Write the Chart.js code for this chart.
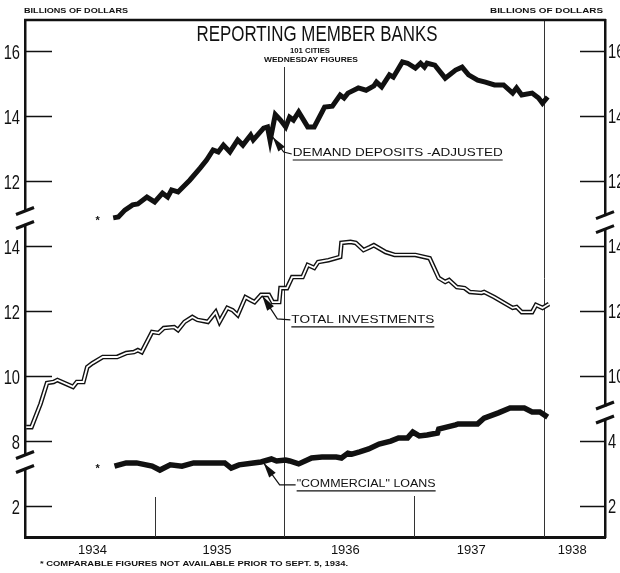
<!DOCTYPE html>
<html>
<head>
<meta charset="utf-8">
<script src="https://cdn.jsdelivr.net/npm/chart.js@4.4.0/dist/chart.umd.min.js"></script>
<style>
    html, body { margin: 0; padding: 0; background: #fff; }
    canvas { display: block; }
</style>
</head>
<body>
<canvas id="grafico" width="620" height="573"></canvas>
<script>
// ==== Dados (bilhões de dólares, figuras de quarta-feira) ====
const depositYears = [1934.68, 1934.72, 1934.77, 1934.83, 1934.87, 1934.94, 1935.00, 1935.06, 1935.10, 1935.13,
    1935.18, 1935.27, 1935.35, 1935.40, 1935.45, 1935.49, 1935.53, 1935.58, 1935.64, 1935.68,
    1935.74, 1935.76, 1935.84, 1935.87, 1935.89, 1935.93, 1935.97, 1936.01, 1936.04, 1936.07,
    1936.11, 1936.18, 1936.23, 1936.31, 1936.37, 1936.43, 1936.46, 1936.49, 1936.57, 1936.63,
    1936.69, 1936.71, 1936.75, 1936.81, 1936.84, 1936.91, 1936.95, 1937.01, 1937.05, 1937.08,
    1937.10, 1937.16, 1937.24, 1937.32, 1937.37, 1937.42, 1937.49, 1937.55, 1937.62, 1937.69,
    1937.76, 1937.79, 1937.83, 1937.91, 1937.96, 1937.99, 1938.03];
const depositValues = [10.87, 10.90, 11.11, 11.27, 11.30, 11.51, 11.36, 11.63, 11.51, 11.73,
    11.67, 12.03, 12.40, 12.65, 12.96, 12.90, 13.11, 12.90, 13.27, 13.11,
    13.42, 13.27, 13.63, 13.67, 13.25, 14.05, 13.88, 13.67, 13.97, 13.88,
    14.13, 13.67, 13.67, 14.28, 14.31, 14.65, 14.56, 14.71, 14.87, 14.80,
    14.93, 15.05, 14.90, 15.27, 15.20, 15.67, 15.63, 15.48, 15.63, 15.51,
    15.63, 15.57, 15.17, 15.42, 15.51, 15.27, 15.11, 15.05, 14.96, 14.96,
    14.71, 14.87, 14.65, 14.71, 14.56, 14.40, 14.59];

const investYears = [1934.01, 1934.05, 1934.12, 1934.17, 1934.22, 1934.25, 1934.37, 1934.40, 1934.45, 1934.48,
    1934.52, 1934.60, 1934.71, 1934.78, 1934.84, 1934.87, 1934.90, 1934.98, 1935.03, 1935.07,
    1935.15, 1935.18, 1935.23, 1935.29, 1935.33, 1935.41, 1935.47, 1935.50, 1935.56, 1935.60,
    1935.64, 1935.70, 1935.74, 1935.77, 1935.82, 1935.88, 1935.91, 1935.96, 1935.97, 1936.02,
    1936.06, 1936.14, 1936.18, 1936.23, 1936.26, 1936.34, 1936.43, 1936.44, 1936.51, 1936.55,
    1936.61, 1936.66, 1936.69, 1936.78, 1936.85, 1937.01, 1937.12, 1937.19, 1937.24, 1937.27,
    1937.33, 1937.39, 1937.43, 1937.52, 1937.54, 1937.62, 1937.76, 1937.79, 1937.83, 1937.91,
    1937.94, 1937.99, 1938.04];
const investValues = [8.43, 8.43, 9.15, 9.79, 9.82, 9.88, 9.67, 9.82, 9.82, 10.28,
    10.40, 10.59, 10.59, 10.71, 10.74, 10.80, 10.74, 11.36, 11.33, 11.48,
    11.51, 11.42, 11.67, 11.82, 11.73, 11.67, 11.97, 11.67, 12.10, 12.03,
    11.88, 12.43, 12.34, 12.28, 12.50, 12.50, 12.28, 12.28, 12.71, 12.71,
    13.05, 13.05, 13.42, 13.33, 13.51, 13.57, 13.67, 14.10, 14.13, 14.10,
    13.88, 13.97, 14.03, 13.82, 13.73, 13.73, 13.63, 13.02, 12.90, 12.96,
    12.74, 12.71, 12.59, 12.56, 12.59, 12.43, 12.10, 12.13, 11.97, 11.97,
    12.19, 12.10, 12.22];

const loanYears = [1934.69, 1934.78, 1934.86, 1934.98, 1935.04, 1935.12, 1935.21, 1935.30, 1935.54, 1935.59,
    1935.65, 1935.76, 1935.82, 1935.90, 1935.94, 1936.01, 1936.04, 1936.11, 1936.21, 1936.29,
    1936.40, 1936.44, 1936.49, 1936.52, 1936.58, 1936.65, 1936.73, 1936.82, 1936.88, 1936.95,
    1936.99, 1937.04, 1937.10, 1937.18, 1937.19, 1937.25, 1937.32, 1937.34, 1937.42, 1937.49,
    1937.54, 1937.65, 1937.74, 1937.85, 1937.91, 1937.97, 1938.03];
const loanValues = [3.23, 3.33, 3.33, 3.23, 3.11, 3.27, 3.23, 3.33, 3.33, 3.17,
    3.27, 3.33, 3.36, 3.45, 3.39, 3.42, 3.39, 3.30, 3.48, 3.51,
    3.51, 3.48, 3.63, 3.60, 3.67, 3.76, 3.91, 4.00, 4.10, 4.10,
    4.28, 4.16, 4.19, 4.25, 4.37, 4.43, 4.50, 4.53, 4.53, 4.53,
    4.71, 4.87, 5.02, 5.02, 4.90, 4.90, 4.74];

const yearLabels = ['1934', '1935', '1936', '1937', '1938'];
const tickSpots = [2, 4, 6, 8, 10, 12, 14, 16];
const leftTickLabels = ['2', '8', '10', '12', '14', '12', '14', '16'];
const rightTickLabels = ['2', '4', '10', '12', '14', '12', '14', '16'];

// a faixa do meio (investimentos) é desenhada 4 bilhões abaixo
const investShift = 4;
const firstWeek = 1934.56; // asterisco: sem dados antes de 5 set 1934

function toPoints(years, values, shift) {
    return years.map((yr, i) => ({ x: yr, y: values[i] - shift }));
}

const sans = '"Liberation Sans", "DejaVu Sans", sans-serif';

function fitText(ctx, text, x, y, width, font, align) {
    ctx.save();
    ctx.font = font;
    ctx.fillStyle = '#111';
    ctx.textBaseline = 'middle';
    ctx.textAlign = 'left';
    const w = ctx.measureText(text).width;
    const left = align === 'center' ? x - width / 2 : x;
    ctx.translate(left, y);
    ctx.scale(width / w, 1);
    ctx.fillText(text, 0, 0);
    ctx.restore();
}

// texto estreito: fonte normal comprimida na horizontal
function narrowText(ctx, text, x, y, font, sx, align) {
    ctx.save();
    ctx.font = font;
    ctx.fillStyle = '#111';
    ctx.textBaseline = 'middle';
    ctx.textAlign = align;
    ctx.translate(x, y);
    ctx.scale(sx, 1);
    ctx.fillText(text, 0, 0);
    ctx.restore();
}

function drawBreak(ctx, x, y) {
    ctx.save();
    ctx.fillStyle = '#fff';
    ctx.fillRect(x - 4, y - 6, 8, 12);
    ctx.strokeStyle = '#111';
    ctx.lineWidth = 3.2;
    for (const dy of [-7, 7]) {
        ctx.beginPath();
        ctx.moveTo(x - 9, y + dy + 3.5);
        ctx.lineTo(x + 9, y + dy - 3.5);
        ctx.stroke();
    }
    ctx.restore();
}

function drawArrow(ctx, tx, ty, elbow, end) {
    const ex = tx + elbow[0], ey = ty + elbow[1];
    const ang = Math.atan2(ey - ty, ex - tx);
    const len = 15, half = 4;
    ctx.save();
    ctx.fillStyle = '#111';
    ctx.strokeStyle = '#111';
    ctx.beginPath();
    ctx.moveTo(tx, ty);
    ctx.lineTo(tx + len * Math.cos(ang) - half * Math.sin(ang), ty + len * Math.sin(ang) + half * Math.cos(ang));
    ctx.lineTo(tx + len * Math.cos(ang) + half * Math.sin(ang), ty + len * Math.sin(ang) - half * Math.cos(ang));
    ctx.closePath();
    ctx.fill();
    ctx.lineWidth = 1.2;
    ctx.beginPath();
    ctx.moveTo(tx, ty);
    ctx.lineTo(ex, ey);
    ctx.lineTo(tx + end[0], ty + end[1]);
    ctx.stroke();
    ctx.restore();
}

// rótulos com seta: ponta em coordenadas do gráfico, resto em deslocamento de pixels
const notes = [
    { text: 'DEMAND DEPOSITS -ADJUSTED', at: [1935.91, 13.36], elbow: [11, 15], end: [19, 17], label: [20, 16], width: 210 },
    { text: 'TOTAL INVESTMENTS', at: [1935.83, 8.47], elbow: [15, 23], end: [28, 24], label: [29, 24], width: 143 },
    { text: '"COMMERCIAL" LOANS', at: [1935.84, 3.33], elbow: [16, 22], end: [32, 22], label: [33, 21], width: 139 }
];

const decor = {
    id: 'decor',
    beforeDatasetsDraw(chart) {
        const { ctx, chartArea: a, scales: { x } } = chart;
        ctx.save();
        ctx.strokeStyle = '#333';
        ctx.lineWidth = 1;
        const lines = [[1935, a.bottom - 40], [1936, 67], [1937, a.bottom - 41], [1938, a.top]];
        lines.forEach(([yr, top]) => {
            const px = Math.round(x.getPixelForValue(yr)) + 0.5;
            ctx.beginPath();
            ctx.moveTo(px, top);
            ctx.lineTo(px, a.bottom);
            ctx.stroke();
        });
        ctx.restore();
    },
    afterDraw(chart) {
        const { ctx, chartArea: a, scales: { x, y, y2 } } = chart;
        ctx.save();
        // moldura superior
        ctx.strokeStyle = '#111';
        ctx.lineWidth = 2.5;
        ctx.beginPath();
        ctx.moveTo(a.left - 1, a.top);
        ctx.lineTo(a.right + 1, a.top);
        ctx.stroke();

        // marcas internas dos eixos
        ctx.lineWidth = 1.3;
        tickSpots.forEach(v => {
            const py = Math.round(y.getPixelForValue(v)) + 0.5;
            ctx.beginPath();
            ctx.moveTo(a.left, py);
            ctx.lineTo(a.left + 27, py);
            ctx.moveTo(a.right - 25, py);
            ctx.lineTo(a.right, py);
            ctx.stroke();
        });
        ctx.restore();

        // rótulos dos eixos verticais (letra estreita)
        y.ticks.forEach((t, i) => {
            narrowText(ctx, leftTickLabels[i], a.left - 5, y.getPixelForValue(t.value) + 2, '21px ' + sans, 0.7, 'right');
        });
        y2.ticks.forEach((t, i) => {
            narrowText(ctx, rightTickLabels[i], a.right + 3, y2.getPixelForValue(t.value) + 1, '21px ' + sans, 0.7, 'left');
        });

        // quebras de escala
        drawBreak(ctx, a.left, y.getPixelForValue(10.87));
        drawBreak(ctx, a.left, y.getPixelForValue(3.36));
        drawBreak(ctx, a.right, y.getPixelForValue(10.74));
        drawBreak(ctx, a.right, y.getPixelForValue(4.88));

        // títulos
        fitText(ctx, 'BILLIONS OF DOLLARS', 24, 11, 104, 'bold 7px ' + sans);
        fitText(ctx, 'BILLIONS OF DOLLARS', 490, 11, 113, 'bold 7px ' + sans);
        fitText(ctx, 'REPORTING MEMBER BANKS', 317, 35, 241, '22px ' + sans, 'center');
        fitText(ctx, '101 CITIES', 310, 51, 40, 'bold 7px ' + sans, 'center');
        fitText(ctx, 'WEDNESDAY FIGURES', 311, 60, 94, 'bold 7px ' + sans, 'center');
        fitText(ctx, '* COMPARABLE FIGURES NOT AVAILABLE PRIOR TO SEPT. 5, 1934.', 40, 564, 308, 'bold 7px ' + sans);

        // asteriscos
        ctx.save();
        ctx.font = 'bold 11px ' + sans;
        ctx.fillStyle = '#111';
        ctx.textAlign = 'center';
        ctx.textBaseline = 'middle';
        ctx.fillText('*', x.getPixelForValue(firstWeek), y.getPixelForValue(depositValues[0]) + 3);
        ctx.fillText('*', x.getPixelForValue(firstWeek), y.getPixelForValue(loanValues[0]) + 3);
        ctx.restore();

        // rótulos das séries
        notes.forEach(n => {
            const tx = x.getPixelForValue(n.at[0]);
            const ty = y.getPixelForValue(n.at[1]);
            drawArrow(ctx, tx, ty, n.elbow, n.end);
            const lx = tx + n.label[0], ly = ty + n.label[1];
            fitText(ctx, n.text, lx, ly, n.width, '11px ' + sans);
            ctx.save();
            ctx.strokeStyle = '#111';
            ctx.lineWidth = 1.2;
            ctx.beginPath();
            ctx.moveTo(lx, ly + 7);
            ctx.lineTo(lx + n.width, ly + 7);
            ctx.stroke();
            ctx.restore();
        });
    }
};

const investPoints = toPoints(investYears, investValues, investShift);
const yearShift = [0.52, 0.48, 0.47, 0.44, 0.22];

const ctx = document.getElementById('grafico').getContext('2d');
const grafico = new Chart(ctx, {
    type: 'line',
    data: {
        datasets: [
            { label: 'Demand deposits - adjusted', data: toPoints(depositYears, depositValues, 0), borderColor: '#111', borderWidth: 5, order: 2 },
            { label: 'Total investments', data: investPoints, borderColor: '#111', borderWidth: 4.6, order: 1 },
            { label: 'Total investments (inner)', data: investPoints, borderColor: '#fff', borderWidth: 1.8, order: 0 },
            { label: 'Commercial loans', data: toPoints(loanYears, loanValues, 0), borderColor: '#111', borderWidth: 5.5, order: 2 }
        ]
    },
    options: {
        responsive: false,
        animation: false,
        devicePixelRatio: 1,
        layout: { padding: { top: 20, left: 0, right: 0, bottom: 0 } },
        elements: {
            point: { radius: 0 },
            line: { tension: 0, borderJoinStyle: 'miter', borderCapStyle: 'butt', fill: false }
        },
        plugins: { legend: { display: false }, tooltip: { enabled: false } },
        scales: {
            x: {
                type: 'linear',
                min: 1934,
                max: 1938.472,
                grid: { display: false, drawTicks: false },
                border: { display: true, color: '#111', width: 3 },
                afterFit: s => { s.height = 36; },
                afterBuildTicks: s => { s.ticks = yearLabels.map((l, i) => ({ value: Number(l) + yearShift[i] })); },
                ticks: {
                    autoSkip: false, maxRotation: 0, padding: 6, color: '#111',
                    font: { family: sans, size: 13 },
                    callback: (v, i) => yearLabels[i]
                }
            },
            y: {
                position: 'left',
                min: 1.05,
                max: 16.96,
                grid: { display: false, drawTicks: false },
                border: { display: true, color: '#111', width: 2.5 },
                afterFit: s => { s.width = 25; },
                afterBuildTicks: s => { s.ticks = tickSpots.map(v => ({ value: v })); },
                ticks: { display: false, autoSkip: false }
            },
            y2: {
                position: 'right',
                min: 1.05,
                max: 16.96,
                grid: { display: false, drawTicks: false },
                border: { display: true, color: '#111', width: 2.5 },
                afterFit: s => { s.width = 15; },
                afterBuildTicks: s => { s.ticks = tickSpots.map(v => ({ value: v })); },
                ticks: { display: false, autoSkip: false }
            }
        }
    },
    plugins: [decor]
});
</script>
</body>
</html>
